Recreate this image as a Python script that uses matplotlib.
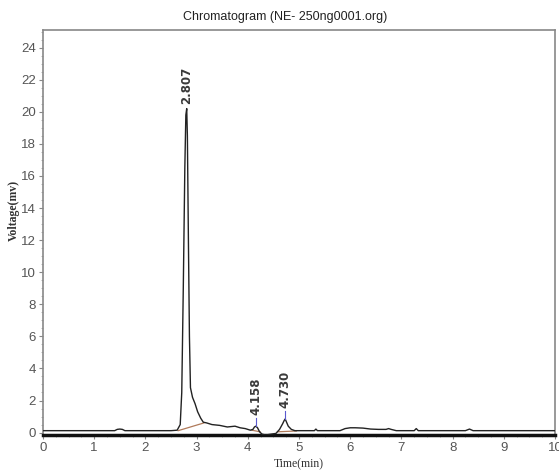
import matplotlib
matplotlib.use("Agg")
import matplotlib.pyplot as plt
from matplotlib.ticker import MultipleLocator

# Chromatogram trace (time in min, voltage in mV)
time = [0.0, 0.5, 1.0, 1.4, 1.45, 1.5, 1.55, 1.6, 2.0, 2.5, 2.62, 2.68, 2.71, 2.74,
        2.77, 2.79, 2.807, 2.82, 2.84, 2.86, 2.88, 2.92, 2.97, 3.02, 3.08, 3.13,
        3.2, 3.3, 3.45, 3.6, 3.75, 3.85, 3.95, 4.05, 4.1, 4.13, 4.158, 4.19, 4.23,
        4.28, 4.35, 4.45, 4.55, 4.62, 4.68, 4.71, 4.73, 4.75, 4.79, 4.85, 4.92,
        5.0, 5.3, 5.33, 5.36, 5.8, 5.9, 6.0, 6.1, 6.25, 6.4, 6.55, 6.7, 6.75,
        6.8, 6.9, 7.0, 7.25, 7.29, 7.33, 8.25, 8.33, 8.4, 8.5, 9.0, 10.0]
voltage = [0.12, 0.12, 0.12, 0.12, 0.2, 0.22, 0.2, 0.12, 0.12, 0.12, 0.15, 0.5, 2.5, 9.0,
           16.5, 19.8, 20.2, 18.5, 12.0, 6.0, 2.8, 2.2, 1.8, 1.3, 0.9, 0.65,
           0.6, 0.5, 0.45, 0.35, 0.4, 0.3, 0.25, 0.15, 0.2, 0.35, 0.4, 0.3, 0.05,
           -0.1, -0.15, -0.1, -0.05, 0.2, 0.55, 0.75, 0.85, 0.7, 0.4, 0.2, 0.12,
           0.12, 0.12, 0.22, 0.12, 0.12, 0.25, 0.3, 0.3, 0.28, 0.22, 0.2, 0.2, 0.25,
           0.2, 0.12, 0.12, 0.12, 0.25, 0.12, 0.12, 0.22, 0.12, 0.12, 0.12, 0.12]

# Integration baselines (start/end time, start/end voltage)
base_t0 = [2.64, 4.08, 4.58]
base_t1 = [3.14, 4.24, 4.95]
base_v0 = [0.12, 0.15, 0.05]
base_v1 = [0.6, 0.05, 0.1]

# Peak labels
peak_rt = [2.807, 4.158, 4.730]
peak_h = [20.2, 0.4, 0.85]
peak_lbl = ["2.807", "4.158", "4.730"]

title = "Chromatogram (NE- 250ng0001.org)"

W, H = 559, 471
fig = plt.figure(figsize=(W / 100, H / 100), dpi=100)
ax = fig.add_axes([43 / W, 36 / H, 512 / W, 405 / H])

sans = ["Liberation Sans", "DejaVu Sans"]

ax.plot(time, voltage, color="#222222", lw=1.0, zorder=3)
for t0, t1, v0, v1 in zip(base_t0, base_t1, base_v0, base_v1):
    ax.plot([t0, t1], [v0, v1], color="#b07a5a", lw=0.9, zorder=2)

for rt, h, lbl in zip(peak_rt, peak_h, peak_lbl):
    if h < 5:
        ax.plot([rt, rt], [h, h + 0.5], color="#5a5acf", lw=0.8, zorder=4)
        y0 = h + 0.7
    else:
        y0 = h + 0.3
    ax.text(rt, y0, lbl, rotation=90, ha="center", va="bottom",
            fontsize=8.5, fontweight="bold", color="#3a3a3a", family="DejaVu Sans")

ax.set_xlim(0, 10)
ax.set_ylim(-0.15, 25.1)
ax.xaxis.set_major_locator(MultipleLocator(1))
ax.yaxis.set_major_locator(MultipleLocator(2))
ax.yaxis.set_minor_locator(MultipleLocator(0.5))
ax.xaxis.set_minor_locator(MultipleLocator(0.25))

for s in ["left", "top", "right"]:
    ax.spines[s].set_color("#888888")
    ax.spines[s].set_linewidth(1.2)
ax.spines["bottom"].set_color("#111111")
ax.spines["bottom"].set_linewidth(2.5)

ax.tick_params(axis="both", which="major", length=3, width=0.8, color="#888888",
               labelcolor="#555555", labelsize=9.5, pad=2)
ax.tick_params(axis="both", which="minor", length=1.5, width=0.6, color="#aaaaaa")
for lab in ax.get_xticklabels() + ax.get_yticklabels():
    lab.set_family(sans)

ax.set_title(title, fontsize=9, family=sans, color="#222222", pad=7, x=0.473)
ax.set_xlabel("Time(min)", fontsize=8.5, family="Liberation Serif", color="#333333", labelpad=3)
ax.set_ylabel("Voltage(mv)", fontsize=8.5, family="Liberation Serif", fontweight="bold",
              color="#333333")
ax.yaxis.set_label_coords(-0.045, 0.555)

fig.savefig("out.png", dpi=100)
